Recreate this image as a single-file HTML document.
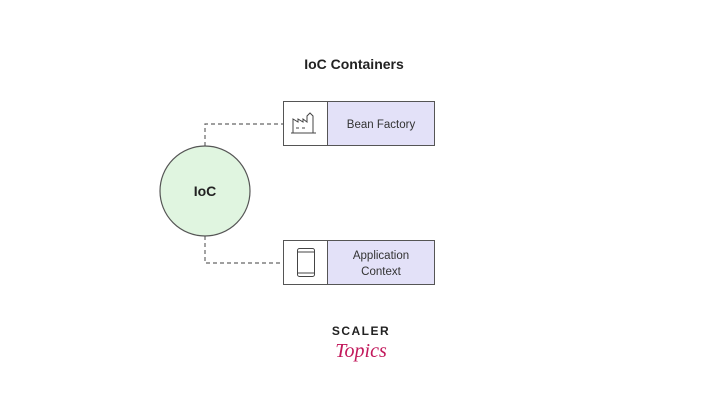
<!DOCTYPE html>
<html><head><style>
body{margin:0;width:720px;height:412px;background:#fff;overflow:hidden;font-family:"Liberation Sans",sans-serif}
</style></head><body>
<svg width="720" height="412" xmlns="http://www.w3.org/2000/svg" font-family="Liberation Sans, sans-serif">
<text x="354" y="69" text-anchor="middle" font-size="14" font-weight="bold" fill="#222">IoC Containers</text>
<path d="M205 146 V124 H283 M205 236 V263 H283" fill="none" stroke="#666" stroke-width="1.2" stroke-dasharray="4,3"/>
<circle cx="205" cy="191" r="45" fill="#e0f5e0" stroke="#555" stroke-width="1.2"/>
<text x="205" y="196" text-anchor="middle" font-size="14" font-weight="bold" fill="#222">IoC</text>
<rect x="283.5" y="101.5" width="151" height="44" fill="#fff" stroke="#555"/>
<rect x="327.5" y="101.5" width="107" height="44" fill="#e3e1f8" stroke="#555"/>
<text x="381" y="128" text-anchor="middle" font-size="11.5" fill="#333">Bean Factory</text>
<path d="M293 133 V119 L298 122 V119 L303 122 V119 L307 122 V116 L310 113 L313 116 V133 Z M291 133 H316 M296 128 H299 M302 128 H305" fill="none" stroke="#444" stroke-width="1"/>
<rect x="283.5" y="240.5" width="151" height="44" fill="#fff" stroke="#555"/>
<rect x="327.5" y="240.5" width="107" height="44" fill="#e3e1f8" stroke="#555"/>
<text x="381" y="259" text-anchor="middle" font-size="11.5" fill="#333">Application</text>
<text x="381" y="275" text-anchor="middle" font-size="11.5" fill="#333">Context</text>
<rect x="297.5" y="248.5" width="17" height="28" rx="2" fill="none" stroke="#444"/>
<path d="M298 252 H314 M298 273 H314" stroke="#444"/>
<text x="361" y="335" text-anchor="middle" font-size="12" font-weight="bold" letter-spacing="1.5" fill="#222">SCALER</text>
<text x="361" y="357" text-anchor="middle" font-size="20" font-style="italic" font-family="Liberation Serif, serif" fill="#c2185b">Topics</text>
</svg>
</body></html>
